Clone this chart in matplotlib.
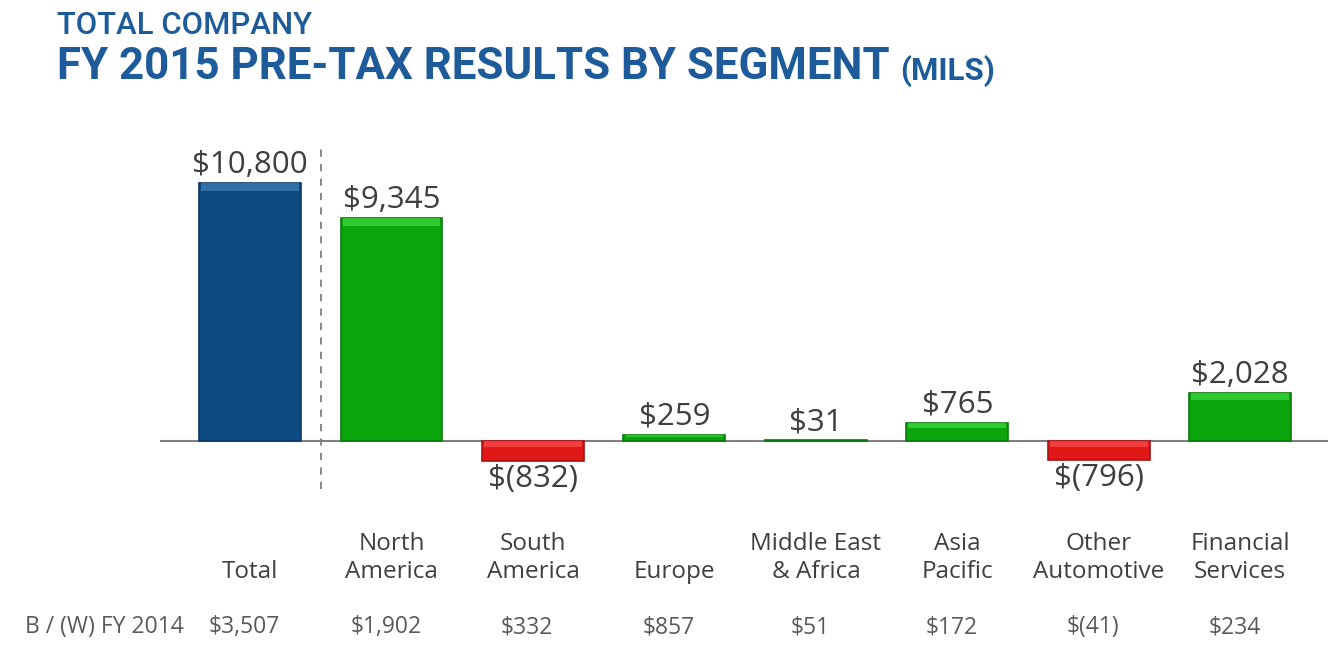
import matplotlib.pyplot as plt
import matplotlib.colors as mcolors

# data (millions USD)
segments = ["Total", "North\nAmerica", "South\nAmerica", "Europe",
            "Middle East\n& Africa", "Asia\nPacific", "Other\nAutomotive",
            "Financial\nServices"]
pretax_2015 = [10800, 9345, -832, 259, 31, 765, -796, 2028]
value_labels = ["$10,800", "$9,345", "$(832)", "$259", "$31", "$765",
                "$(796)", "$2,028"]
bw_fy2014 = ["$3,507", "$1,902", "$332", "$857", "$51", "$172", "$(41)",
             "$234"]

BLUE = "#0d4a82"
GREEN = "#0aa50a"
RED = "#e01818"
TEXT = "#3f3f3f"
TITLE = "#1d5b9b"

fig = plt.figure(figsize=(13.28, 6.56), dpi=100)
ax = fig.add_axes([0.1205, 0.2378, 0.8795, 0.5488])
ax.set_xlim(-0.636, 7.62)
ax.set_ylim(-2470, 12600)
ax.axis("off")

fam = ["Open Sans", "DejaVu Sans"]
width = 0.72
for i, v in enumerate(pretax_2015):
    if i == 0:
        col = BLUE
    elif v < 0:
        col = RED
    else:
        col = GREEN
    dark = [c * 0.75 for c in mcolors.to_rgb(col)]
    light = [min(1, c + 0.25) for c in mcolors.to_rgb(col)]
    ax.bar(i, v, width=width, color=col, edgecolor=dark, linewidth=1.2, zorder=3)
    # bevel highlight along the top edge
    band = min(abs(v) * 0.3, 330)
    if abs(v) > 200:
        top = max(v, 0)
        ax.bar(i, -band, bottom=top, width=width * 0.96, color=light,
               linewidth=0, zorder=4, alpha=0.6)
    if v >= 0:
        ax.text(i, v + 120, value_labels[i], ha="center", va="bottom",
                fontsize=22.5, color=TEXT, family=fam)
    else:
        ax.text(i, v - 120, value_labels[i], ha="center", va="top",
                fontsize=22.5, color=TEXT, family=fam)

ax.axhline(0, color="#7f7f7f", linewidth=1.5, zorder=2)
ax.axvline(0.5, ymin=0.03, ymax=0.985, color="#7f7f7f", linestyle=(0, (4, 4)),
           linewidth=1.3, zorder=1)

# category labels and B/(W) row
for i, name in enumerate(segments):
    ax.text(i, -0.232, name, transform=ax.get_xaxis_transform(), ha="center",
            va="bottom", fontsize=17.5, color=TEXT, family=fam, linespacing=1.2)
    ax.text(i - 0.04, -0.353, bw_fy2014[i], transform=ax.get_xaxis_transform(),
            ha="center", va="center", fontsize=16.5, color="#5a5a5a", family=fam)

fig.text(25 / 1328, 1 - 627 / 656, "B / (W) FY 2014", ha="left", va="center",
         fontsize=16.5, color="#5a5a5a", family=fam)

# titles, sized to the reference widths
tfam = ["Roboto", "DejaVu Sans"]
renderer = fig.canvas.get_renderer()


def fit_text(x, y, s, target_px, size, **kw):
    t = fig.text(x, y, s, fontsize=size, family=tfam, **kw)
    w = t.get_window_extent(renderer).width
    t.set_fontsize(size * target_px / w)
    return t


fit_text(57 / 1328, 1 - 26 / 656, "TOTAL COMPANY", 255, 20, ha="left",
         va="center", color=TITLE, weight="medium")
fit_text(57 / 1328, 1 - 67 / 656, "FY 2015 PRE-TAX RESULTS BY SEGMENT", 833, 31,
         ha="left", va="center", color=TITLE, weight="bold")
fit_text(900 / 1328, 1 - 71 / 656, "(MILS)", 95, 18, ha="left", va="center",
         color=TITLE, weight="bold")

fig.savefig("out.png", dpi=100)
